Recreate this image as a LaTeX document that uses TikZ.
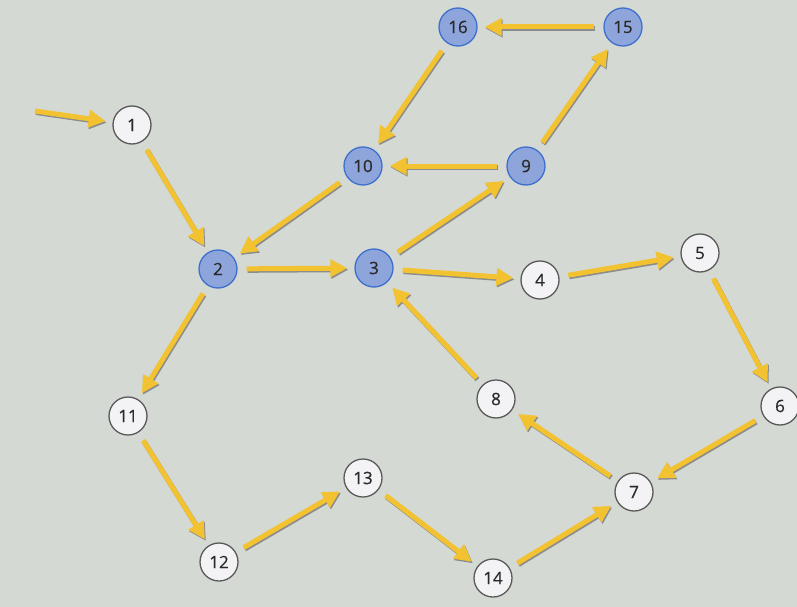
\documentclass[tikz,border=0pt]{standalone}
\usepackage{fontspec}
\setmainfont{Open Sans}
\newfontfamily\numfont{Open Sans}[FakeBold=0.6]
\usetikzlibrary{arrows.meta}
\definecolor{bg}{HTML}{D4DAD3}
\definecolor{arr}{HTML}{F2C230}
\definecolor{bluefill}{HTML}{8EA5DC}
\definecolor{blueedge}{HTML}{3F6FCC}
\definecolor{whitefill}{HTML}{F3F3F5}
\definecolor{txt}{HTML}{2A2A2A}
\tikzset{
  wnode/.style={circle,draw=black!65,line width=1.3pt,fill=whitefill,minimum size=38pt,inner sep=0pt,font=\numfont\fontsize{17}{17}\selectfont,text=txt},
  bnode/.style={circle,draw=blueedge,line width=1.3pt,fill=bluefill,minimum size=38pt,inner sep=0pt,font=\numfont\fontsize{17}{17}\selectfont,text=txt},
  flow/.style={draw=arr,line width=5pt,-{Triangle[length=17pt,width=17pt]},shorten >=7pt,shorten <=9pt},
  flowshadow/.style={draw=black!45,line width=5pt,-{Triangle[length=17pt,width=17pt]},shorten >=7pt,shorten <=9pt,transform canvas={shift={(1pt,-1.5pt)}}}
}
\begin{document}
\begin{tikzpicture}[x=1pt,y=-1pt]
\fill[bg] (0,0) rectangle (797,607);
\useasboundingbox (0,0) rectangle (797,607);
\node[wnode] (n1) at (132,125) {1};
\node[bnode] (n2) at (218,269) {2};
\node[bnode] (n3) at (374,268) {3};
\node[wnode] (n4) at (540,280) {4};
\node[wnode] (n5) at (700,253) {5};
\node[wnode] (n6) at (780,406) {6};
\node[wnode] (n7) at (634,492) {7};
\node[wnode] (n8) at (496,399) {8};
\node[bnode] (n9) at (526,166) {9};
\node[bnode] (n10) at (363,166) {10};
\node[wnode] (n11) at (128,416) {11};
\node[wnode] (n12) at (219,562) {12};
\node[wnode] (n13) at (363,478) {13};
\node[wnode] (n14) at (493,578) {14};
\node[bnode] (n15) at (623,27) {15};
\node[bnode] (n16) at (458,27) {16};
\coordinate (start) at (35,111);
\foreach \a/\b in {n1/n2,n10/n2,n2/n3,n3/n9,n9/n10,n9/n15,n15/n16,n16/n10,n3/n4,n4/n5,n5/n6,n6/n7,n7/n8,n8/n3,n2/n11,n11/n12,n12/n13,n13/n14,n14/n7}{
  \draw[flowshadow] (\a) -- (\b);
}
\draw[flowshadow,shorten <=0pt] (start) -- (n1);
\foreach \a/\b in {n1/n2,n10/n2,n2/n3,n3/n9,n9/n10,n9/n15,n15/n16,n16/n10,n3/n4,n4/n5,n5/n6,n6/n7,n7/n8,n8/n3,n2/n11,n11/n12,n12/n13,n13/n14,n14/n7}{
  \draw[flow] (\a) -- (\b);
}
\draw[flow,shorten <=0pt] (start) -- (n1);
\end{tikzpicture}
\end{document}
